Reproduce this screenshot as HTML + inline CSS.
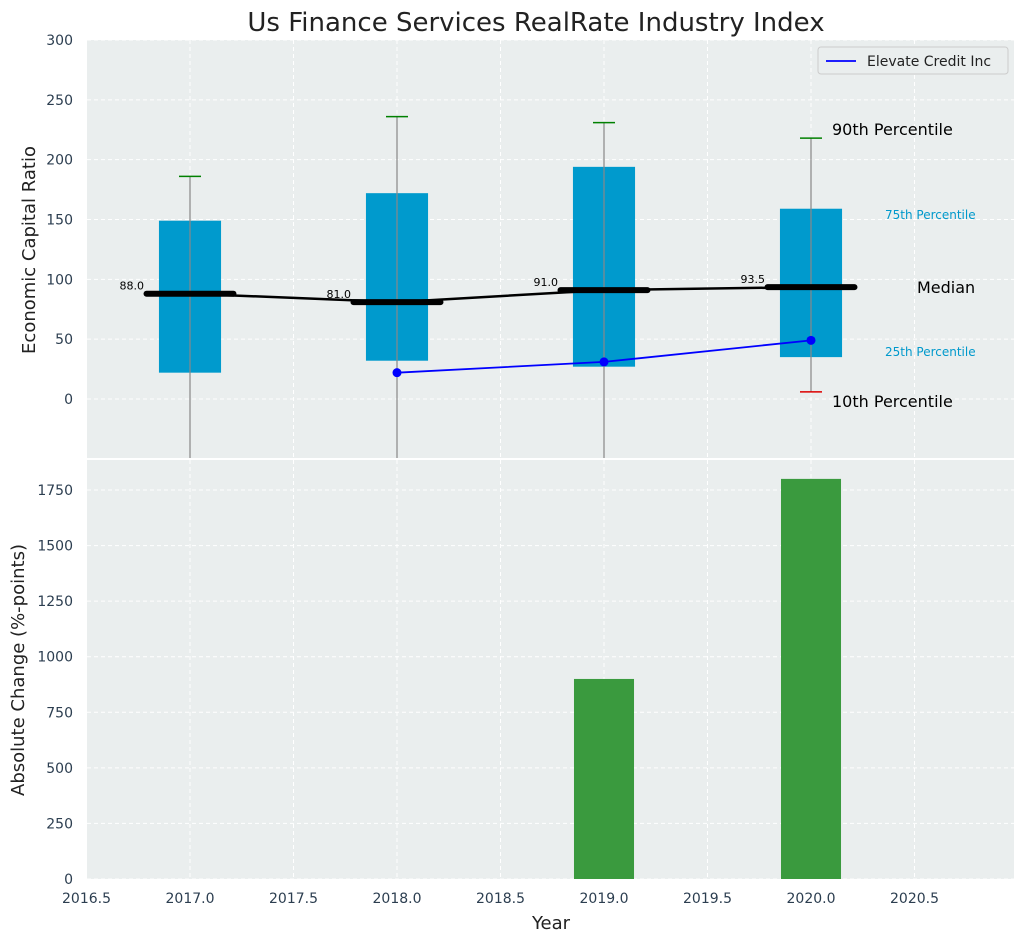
<!DOCTYPE html>
<html><head><meta charset="utf-8"><style>
body{margin:0;background:#fff;font-family:"Liberation Sans","DejaVu Sans",sans-serif}
svg text{font-family:"DejaVu Sans","Liberation Sans",sans-serif}
</style></head><body>
<svg id="c" width="1026" height="942" xmlns="http://www.w3.org/2000/svg"></svg>
<script>
const years=[2017,2018,2019,2020];
const p10=[-80,-80,-80,6];
const p25=[22,32,27,35];
const med=[88,81,91,93.5];
const p75=[149,172,194,159];
const p90=[186,236,231,218];
const elevYears=[2018,2019,2020];
const elevVals=[22,31,49];
const barYears=[2019,2020];
const barVals=[900,1800];
const xTicks=[2016.5,2017,2017.5,2018,2018.5,2019,2019.5,2020,2020.5];
const yTopTicks=[0,50,100,150,200,250,300];
const yBotTicks=[0,250,500,750,1000,1250,1500,1750];

const svg=document.getElementById('c');const NS='http://www.w3.org/2000/svg';
function el(t,a,p){const e=document.createElementNS(NS,t);for(const k in a)e.setAttribute(k,a[k]);(p||svg).appendChild(e);return e;}
const L=87,R=1014,T1=40,B1=458,T2=460,B2=879;
const X=v=>86.5+(v-2016.5)*207;
const Y1=v=>399-v*(359/300);
const Y2=v=>879-v*(389/1750);
// backgrounds
let r=el('rect',{x:L,y:T1,width:R-L,height:B1-T1,fill:'#eaeeee'});

r=el('rect',{x:L,y:T2,width:R-L,height:B2-T2,fill:'#eaeeee'});

// grids
xTicks.forEach(t=>{const x=X(t);el('line',{x1:x,x2:x,y1:T1,y2:B1,stroke:'#fff','stroke-dasharray':'4,3','stroke-width':1});el('line',{x1:x,x2:x,y1:T2,y2:B2,stroke:'#fff','stroke-dasharray':'4,3','stroke-width':1});
 const tx=el('text',{x:x,y:903,'text-anchor':'middle','font-size':14,fill:'#2c3e50'});tx.textContent=t.toFixed(1);
 });
yTopTicks.forEach(t=>{const y=Y1(t);el('line',{x1:L,x2:R,y1:y,y2:y,stroke:'#fff','stroke-dasharray':'4,3'});
 const tx=el('text',{x:73,y:y+5,'text-anchor':'end','font-size':14,fill:'#2c3e50'});tx.textContent=t;
 });
yBotTicks.forEach(t=>{const y=Y2(t);el('line',{x1:L,x2:R,y1:y,y2:y,stroke:'#fff','stroke-dasharray':'4,3'});
 const tx=el('text',{x:73,y:y+5,'text-anchor':'end','font-size':14,fill:'#2c3e50'});tx.textContent=t;
 });
// clip
const defs=el('defs',{});const cp=el('clipPath',{id:'cl'},defs);el('rect',{x:L,y:T1,width:R-L,height:B1-T1},cp);
const g=el('g',{'clip-path':'url(#cl)'});
years.forEach((yr,i)=>{const x=X(yr),w=0.3*207;
 let b=el('rect',{x:x-w/2,y:Y1(p75[i]),width:w,height:Y1(p25[i])-Y1(p75[i]),fill:'#009acd'},g);
 
 el('line',{x1:x,x2:x,y1:Y1(p90[i]),y2:Y1(p10[i]),stroke:'#888','stroke-width':1.2},g);
 el('line',{x1:x-11,x2:x+11,y1:Y1(p90[i]),y2:Y1(p90[i]),stroke:'green','stroke-width':1.5},g);
 el('line',{x1:x-11,x2:x+11,y1:Y1(p10[i]),y2:Y1(p10[i]),stroke:'#d00','stroke-width':1.5},g);
 const m=el('line',{x1:x-0.21*207,x2:x+0.21*207,y1:Y1(med[i]),y2:Y1(med[i]),stroke:'#000','stroke-width':6,'stroke-linecap':'round'},g);
 
 const t=el('text',{x:x-46,y:Y1(med[i])-4,'text-anchor':'end','font-size':11,fill:'#000'});t.textContent=med[i].toFixed(1);
 
});
let ml=el('polyline',{points:years.map((y,i)=>X(y)+','+Y1(med[i])).join(' '),fill:'none',stroke:'#000','stroke-width':2.5},g);

let bl=el('polyline',{points:elevYears.map((y,i)=>X(y)+','+Y1(elevVals[i])).join(' '),fill:'none',stroke:'blue','stroke-width':1.8},g);

elevYears.forEach((y,i)=>{const c=el('circle',{cx:X(y),cy:Y1(elevVals[i]),r:4.5,fill:'blue'},g);});
// annotations
const ann=[[832,135,'90th Percentile',16,'#000'],[885,219,'75th Percentile',12,'#0099cc'],[917,293,'Median',16,'#000'],[885,356,'25th Percentile',12,'#0099cc'],[832,407,'10th Percentile',16,'#000']];
ann.forEach(a=>{const t=el('text',{x:a[0],y:a[1],'font-size':a[3],fill:a[4]});t.textContent=a[2];});
// bars
barYears.forEach((y,i)=>{const w=0.29*207;const b=el('rect',{x:X(y)-w/2,y:Y2(barVals[i]),width:w,height:Y2(0)-Y2(barVals[i]),fill:'#3a9a3e'});
 });
// legend
const lg=el('g',{});
el('rect',{x:818,y:47,width:190,height:27,fill:'#eaeeee',stroke:'#ccc',rx:3},lg);
el('line',{x1:826,x2:856,y1:61,y2:61,stroke:'blue','stroke-width':1.8},lg);
let lt=el('text',{x:867,y:66,'font-size':14,fill:'#222'},lg);lt.textContent='Elevate Credit Inc';
// titles
let t=el('text',{x:536,y:31,'text-anchor':'middle','font-size':26,fill:'#222'});t.textContent='Us Finance Services RealRate Industry Index';
t=el('text',{x:0,y:0,'text-anchor':'middle','font-size':18,fill:'#222',transform:'translate(35,250) rotate(-90)'});t.textContent='Economic Capital Ratio';
t=el('text',{x:0,y:0,'text-anchor':'middle','font-size':18,fill:'#222',transform:'translate(24,670) rotate(-90)'});t.textContent='Absolute Change (%-points)';
t=el('text',{x:551,y:929,'text-anchor':'middle','font-size':18,fill:'#222'});t.textContent='Year';
</script></body></html>
